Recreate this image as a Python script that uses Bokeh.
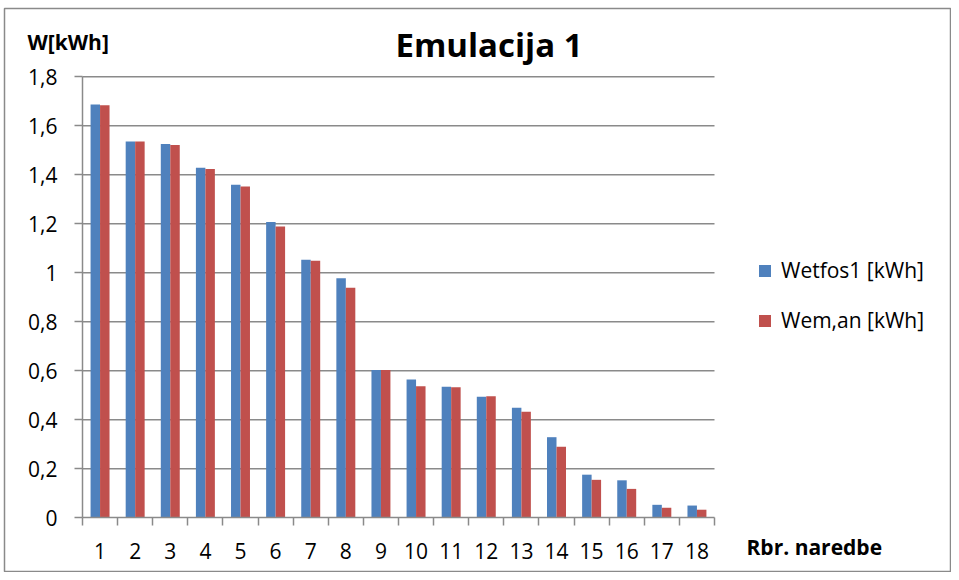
from bokeh.plotting import figure
from bokeh.models import ColumnDataSource, Range1d, FixedTicker, Label, LinearAxis
from bokeh.transform import dodge
from bokeh.embed import file_html
from bokeh.resources import INLINE

# ---- data ----
categories = [str(i) for i in range(1, 19)]
x_pos = list(range(1, 19))
wetfos1 = [1.687, 1.536, 1.526, 1.429, 1.359, 1.207, 1.053, 0.978, 0.603,
           0.565, 0.535, 0.494, 0.449, 0.329, 0.176, 0.153, 0.053, 0.050]
wem_an = [1.684, 1.536, 1.522, 1.424, 1.352, 1.189, 1.049, 0.939, 0.603,
          0.537, 0.533, 0.496, 0.433, 0.290, 0.155, 0.118, 0.041, 0.033]
y_ticks = [0, 0.2, 0.4, 0.6, 0.8, 1.0, 1.2, 1.4, 1.6, 1.8]
y_tick_labels = ["0", "0,2", "0,4", "0,6", "0,8", "1", "1,2", "1,4", "1,6", "1,8"]
series_names = ["Wetfos1 [kWh]", "Wem,an [kWh]"]
title_text = "Emulacija 1"
y_title = "W[kWh]"
x_title = "Rbr. naredbe"

BLUE = "#4F81BD"
RED = "#C0504D"
GRAY = "#8a8a8a"
FONT = "Open Sans"

# ---- layout (pixels in the picture) ----
CANVAS_W, CANVAS_H = 951, 572
FRAME_L, FRAME_T = 4, 8          # outer chart border inside canvas
FRAME_W, FRAME_H = CANVAS_W - FRAME_L, CANVAS_H - FRAME_T
OFF = 1                           # canvas offset in picture
PLOT_L, PLOT_R = 83, 715          # plot area (picture px)
PLOT_T, PLOT_B = 77.3, 518.3
x_lo, x_hi = min(x_pos) - 0.5, max(x_pos) + 0.5
y_lo, y_hi = y_ticks[0], y_ticks[-1]
PXU_X = (PLOT_R - PLOT_L) / (x_hi - x_lo)
PXU_Y = (PLOT_B - PLOT_T) / (y_hi - y_lo)


def dx(px):
    return x_lo + (px - PLOT_L) / PXU_X


def dy(py):
    return y_lo + (PLOT_B - py) / PXU_Y


fl_px = FRAME_L + OFF
fr_px = FRAME_L + FRAME_W + OFF
ft_px = FRAME_T + OFF
fb_px = FRAME_T + FRAME_H + OFF

src = ColumnDataSource(dict(x=x_pos, a=wetfos1, b=wem_an))

p = figure(frame_width=FRAME_W, frame_height=FRAME_H,
           min_border_left=FRAME_L, min_border_right=0,
           min_border_top=FRAME_T, min_border_bottom=0,
           x_range=Range1d(dx(fl_px), dx(fr_px)),
           y_range=Range1d(dy(fb_px), dy(ft_px)),
           x_axis_location=None, y_axis_location=None,
           output_backend="svg", toolbar_location=None, tools="")
p.outline_line_color = GRAY
p.outline_line_width = 1.5
p.background_fill_color = "white"
p.border_fill_color = "white"
for g in p.grid:
    g.visible = False

# horizontal gridlines across the plot area
grid_vals = y_ticks[1:]
p.segment(x0=[x_lo] * len(grid_vals), x1=[x_hi] * len(grid_vals),
          y0=grid_vals, y1=grid_vals, line_color=GRAY, line_width=1.5)

p.vbar(x=dodge("x", -0.135), top="a", width=0.27, source=src,
       fill_color=BLUE, line_color=None, legend_label=series_names[0])
p.vbar(x=dodge("x", 0.135), top="b", width=0.27, source=src,
       fill_color=RED, line_color=None, legend_label=series_names[1])

# y axis
yax = LinearAxis(fixed_location=x_lo, bounds=(y_lo, y_hi))
yax.ticker = FixedTicker(ticks=y_ticks)
yax.major_label_overrides = {t: l for t, l in zip(y_ticks, y_tick_labels)}
yax.axis_line_color = GRAY
yax.axis_line_width = 1.5
yax.major_tick_line_color = GRAY
yax.major_tick_line_width = 1.5
yax.major_tick_in = 0
yax.major_tick_out = 8
yax.minor_tick_line_color = None
yax.major_label_standoff = 17
yax.major_label_text_font = FONT
yax.major_label_text_font_size = "21px"
yax.major_label_text_color = "black"
p.add_layout(yax, "left")

# x axis
xax = LinearAxis(fixed_location=y_lo, bounds=(x_lo, x_hi))
xax.ticker = FixedTicker(ticks=x_pos, minor_ticks=[x - 0.5 for x in x_pos] + [x_hi])
xax.major_label_overrides = {x: c for x, c in zip(x_pos, categories)}
xax.axis_line_color = GRAY
xax.axis_line_width = 1.5
xax.major_tick_line_color = None
xax.major_tick_in = 0
xax.major_tick_out = 0
xax.minor_tick_line_color = GRAY
xax.minor_tick_line_width = 1.5
xax.minor_tick_in = 0
xax.minor_tick_out = 8
xax.major_label_standoff = 17
xax.major_label_text_font = FONT
xax.major_label_text_font_size = "21px"
xax.major_label_text_color = "black"
p.add_layout(xax, "below")

# legend (screen coords relative to frame, from bottom-left)
lg = p.legend[0]
lg.location = (758 - fl_px, fb_px - 335)
lg.orientation = "vertical"
lg.border_line_color = None
lg.background_fill_alpha = 0
lg.padding = 0
lg.margin = 0
lg.glyph_width = 15
lg.glyph_height = 15
lg.label_height = 21
lg.spacing = 22
lg.label_standoff = 9
lg.label_text_font = FONT
lg.label_text_font_size = "21px"
lg.label_text_color = "black"

# texts
p.add_layout(Label(x=dx(489.5), y=dy(45), text=title_text, text_align="center",
                   text_baseline="middle", text_font=FONT, text_font_style="bold",
                   text_font_size="33px", text_color="black"))
p.add_layout(Label(x=dx(28), y=dy(42), text=y_title, text_align="left",
                   text_baseline="middle", text_font=FONT, text_font_style="bold",
                   text_font_size="21px", text_color="black"))
p.add_layout(Label(x=dx(747), y=dy(547), text=x_title, text_align="left",
                   text_baseline="middle", text_font=FONT, text_font_style="bold",
                   text_font_size="21px", text_color="black"))

open("out.html", "w").write(file_html(p, INLINE))
